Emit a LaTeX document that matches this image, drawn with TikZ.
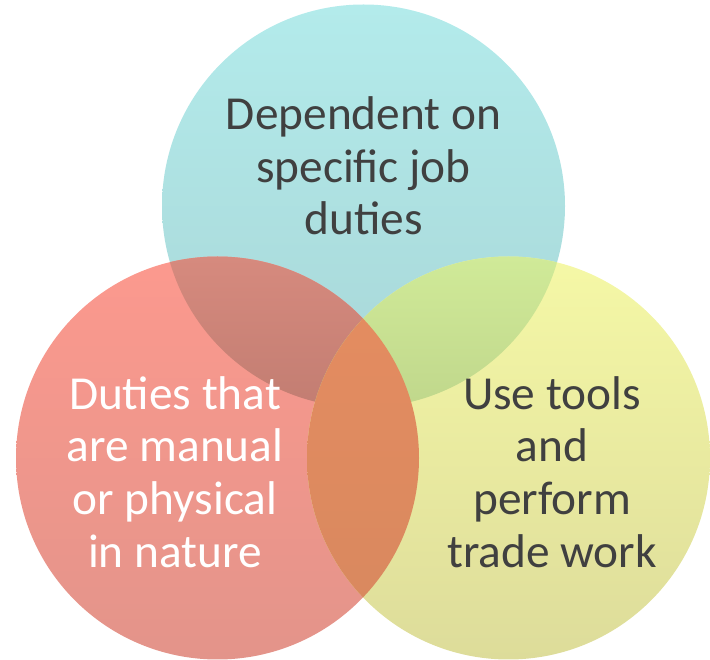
\documentclass[tikz,border=0pt]{standalone}
\usepackage{fontspec}
\setmainfont{Carlito}
\definecolor{cyanT}{HTML}{B3EBEB}
\definecolor{cyanB}{HTML}{A8D6D7}
\definecolor{redT}{HTML}{FC998E}
\definecolor{redB}{HTML}{E3948A}
\definecolor{yelT}{HTML}{F5F8A6}
\definecolor{yelB}{HTML}{DDDC9A}
\definecolor{rcT}{HTML}{D68A7E}
\definecolor{rcB}{HTML}{C98275}
\definecolor{ycT}{HTML}{D0EA98}
\definecolor{ycB}{HTML}{C2D88C}
\definecolor{ryT}{HTML}{F29466}
\definecolor{ryB}{HTML}{D7885E}
\definecolor{txtgray}{HTML}{404040}

\begin{document}
\begin{tikzpicture}[x=0.75pt,y=0.75pt,
  lbl/.style={align=center, inner sep=0, font=\fontsize{35.5}{39.5}\selectfont}]
\useasboundingbox (0,0) rectangle (710,660);
\def\rad{201.5}
\coordinate (T) at (363.5,454);
\coordinate (L) at (217.5,202);
\coordinate (R) at (508.5,202);
% the three circles
\shade[top color=cyanT, bottom color=cyanB] (T) circle (\rad);
\shade[top color=redT, bottom color=redB] (L) circle (\rad);
\shade[top color=yelT, bottom color=yelB] (R) circle (\rad);
% overlaps
\begin{scope}
 \clip (T) circle (\rad);
 \shade[top color=rcT, bottom color=rcB!80!black] (L) circle (\rad);
 \shade[top color=ycT, bottom color=ycB!85!black] (R) circle (\rad);
\end{scope}
\begin{scope}
 \clip (L) circle (\rad);
 \shade[top color=ryT!95!black, bottom color=ryB] (R) circle (\rad);
\end{scope}
% labels
\node[lbl, text=txtgray] (duties) at (363.5,494) {Dependent on\\specific job\\duties};
\node[lbl, text=white] (manual) at (175,188) {Duties that\\are manual\\or physical\\in nature};
\node[lbl, text=txtgray] (tools) at (552,188) {Use tools\\and\\perform\\trade work};
\end{tikzpicture}
\end{document}
